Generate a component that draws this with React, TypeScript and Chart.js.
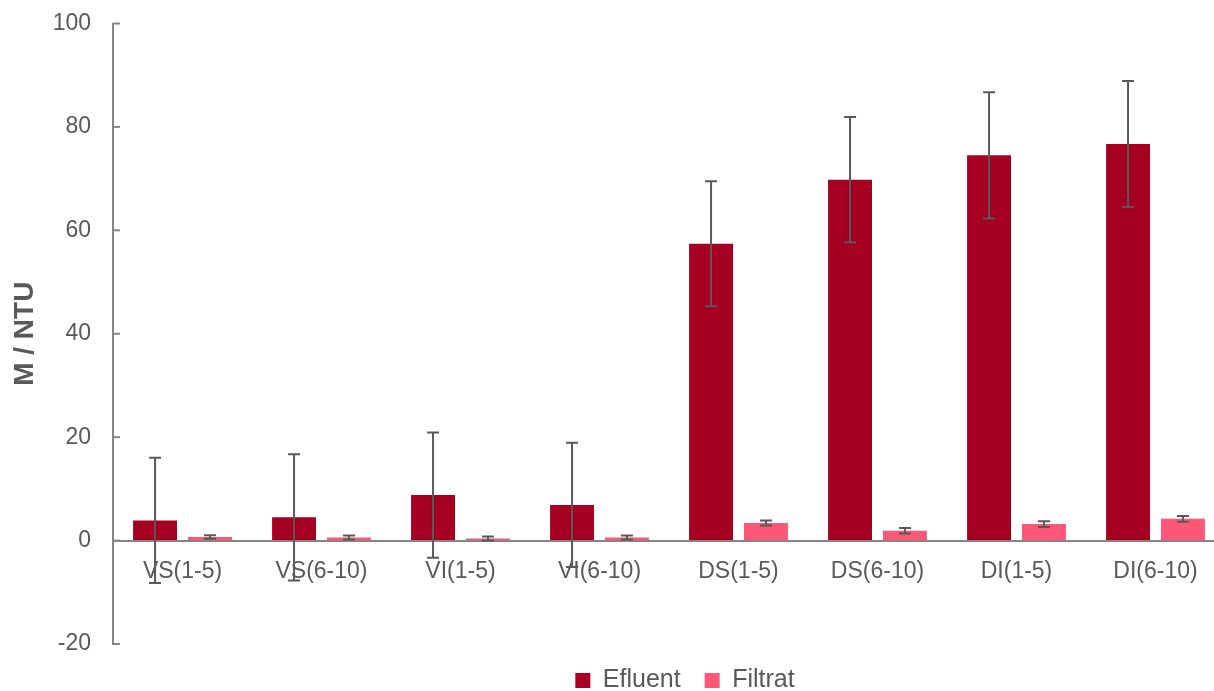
import React, { useEffect, useRef } from "react";
import { Chart, registerables } from "chart.js";

Chart.register(...registerables);

const categories = ["VS(1-5)", "VS(6-10)", "VI(1-5)", "VI(6-10)", "DS(1-5)", "DS(6-10)", "DI(1-5)", "DI(6-10)"];
const efluentValues = [3.9, 4.5, 8.8, 6.9, 57.4, 69.8, 74.5, 76.7];
const efluentErrors = [12.1, 12.2, 12.1, 12.0, 12.1, 12.1, 12.2, 12.2];
const filtratValues = [0.7, 0.6, 0.4, 0.6, 3.4, 1.9, 3.2, 4.2];
const filtratErrors = [0.35, 0.4, 0.4, 0.4, 0.5, 0.55, 0.55, 0.55];
const yTicks = [-20, 0, 20, 40, 60, 80, 100];

const TEXT = "#595959";
const AXIS = "#868686";
const FONT = "'Liberation Sans', Arial, sans-serif";

const errorBarPlugin = {
  id: "errorBars",
  afterDraw(chart: any) {
    const ctx = chart.ctx;
    const yScale = chart.scales.y;
    const errs = [efluentErrors, filtratErrors];
    const vals = [efluentValues, filtratValues];
    ctx.save();
    // inward ticks on the y axis
    ctx.strokeStyle = AXIS;
    ctx.lineWidth = 2;
    const left = chart.chartArea.left;
    yTicks.forEach((t) => {
      const py = yScale.getPixelForValue(t);
      ctx.beginPath();
      ctx.moveTo(left, py);
      ctx.lineTo(left + 7, py);
      ctx.stroke();
    });
    ctx.strokeStyle = TEXT;
    ctx.lineWidth = 2;
    chart.data.datasets.forEach((_: any, di: number) => {
      const meta = chart.getDatasetMeta(di);
      meta.data.forEach((bar: any, i: number) => {
        const v = vals[di][i];
        const e = errs[di][i];
        const x = bar.x;
        const yt = yScale.getPixelForValue(v + e);
        const yb = yScale.getPixelForValue(v - e);
        ctx.beginPath();
        ctx.moveTo(x, yt);
        ctx.lineTo(x, yb);
        ctx.moveTo(x - 6, yt);
        ctx.lineTo(x + 6, yt);
        ctx.moveTo(x - 6, yb);
        ctx.lineTo(x + 6, yb);
        ctx.stroke();
      });
    });
    ctx.restore();
  },
};

export default function App() {
  const ref = useRef<HTMLCanvasElement | null>(null);
  useEffect(() => {
    if (!ref.current) return;
    const chart = new Chart(ref.current, {
      type: "bar",
      data: {
        labels: categories,
        datasets: [
          { label: "Efluent", data: efluentValues, backgroundColor: "#A50021", borderWidth: 0, barPercentage: 0.8, categoryPercentage: 0.79 },
          { label: "Filtrat", data: filtratValues, backgroundColor: "#FF5778", borderWidth: 0, barPercentage: 0.8, categoryPercentage: 0.79 },
        ],
      },
      options: {
        responsive: false,
        animation: false,
        devicePixelRatio: 1,
        layout: { padding: { left: 0, right: 0, top: 23.5, bottom: 0 } },
        plugins: {
          tooltip: { enabled: false },
          legend: {
            position: "bottom",
            labels: {
              color: TEXT,
              font: { family: FONT, size: 25 },
              boxWidth: 15,
              boxHeight: 15,
              padding: 24,
            },
          },
        },
        scales: {
          x: {
            position: { y: 0 } as any,
            grid: { display: true, drawOnChartArea: false, drawTicks: false },
            border: { display: true, color: AXIS, width: 2 },
            ticks: { color: TEXT, font: { family: FONT, size: 23 }, padding: 17, maxRotation: 0, autoSkip: false },
          },
          y: {
            min: -20,
            max: 100,
            afterFit(scale: any) {
              scale.width = 113;
              scale.paddingTop = 0;
              scale.paddingBottom = 0;
            },
            grid: { display: true, drawOnChartArea: false, drawTicks: false },
            border: { display: true, color: AXIS, width: 2 },
            ticks: { stepSize: 20, color: TEXT, font: { family: FONT, size: 23 }, padding: 22 },
            title: {
              display: true,
              text: "M / NTU",
              color: TEXT,
              font: { family: FONT, size: 28, weight: "bold" },
              padding: { top: 8, bottom: 0 },
            },
          },
          yRightSpace: {
            position: "right",
            min: -20,
            max: 100,
            afterFit(scale: any) {
              scale.width = 145;
              scale.paddingTop = 0;
              scale.paddingBottom = 0;
            },
            grid: { display: false },
            border: { display: false },
            ticks: { display: false },
          },
        },
      },
      plugins: [errorBarPlugin],
    });
    return () => chart.destroy();
  }, []);
  return (
    <div style={{ position: "absolute", left: 0, top: 0, width: 1214, height: 691, overflow: "hidden", background: "#fff" }}>
      <canvas ref={ref} width={1370} height={703} style={{ display: "block" }} />
    </div>
  );
}
